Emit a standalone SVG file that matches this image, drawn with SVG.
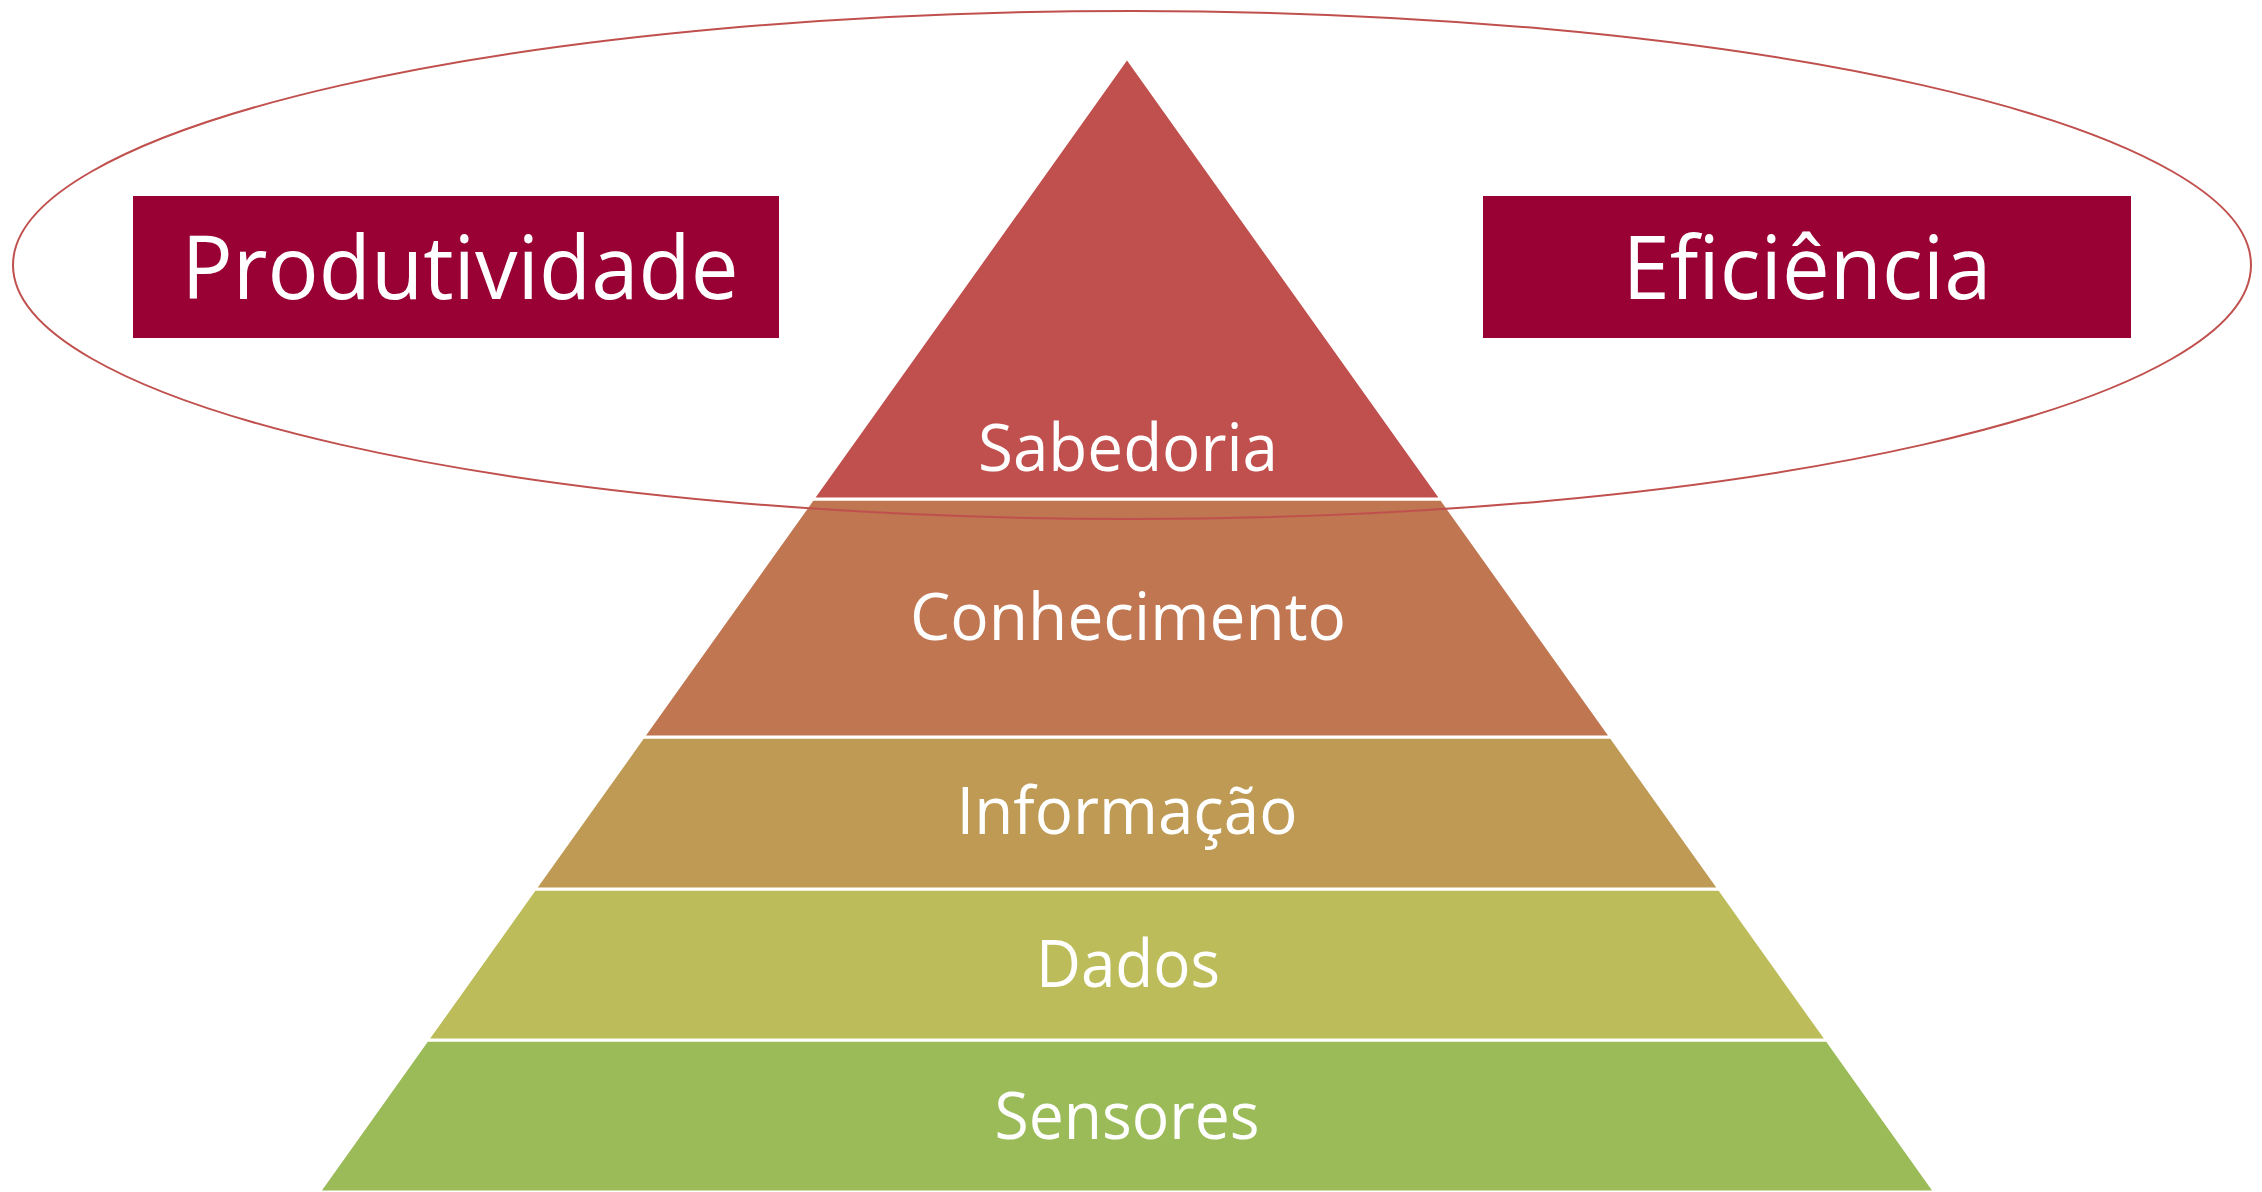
<svg xmlns="http://www.w3.org/2000/svg" width="2262" height="1192" viewBox="0 0 2262 1192">
  <style>
    .layer { stroke: #FFFFFF; stroke-width: 3; stroke-linejoin: miter; }
    .lbl { font-family: "Open Sans", "Noto Sans", "Liberation Sans", sans-serif; fill: #FFFFFF; text-anchor: middle; }
    .lt { font-size: 66px; }
    .bt { font-size: 87px; }
    .box { fill: #990033; }
  </style>
  <rect width="2262" height="1192" fill="#FFFFFF"/>
  <g id="pyramid">
    <g id="layer-sensores">
      <polygon class="layer" fill="#9BBB59" points="427.3,1040 1826.7,1040 1935,1192 319,1192"/>
      <text class="lbl lt" x="1127" y="1139" textLength="265" lengthAdjust="spacingAndGlyphs">Sensores</text>
    </g>
    <g id="layer-dados">
      <polygon class="layer" fill="#BCBC5A" points="534.9,889 1719.1,889 1826.7,1040 427.3,1040"/>
      <text class="lbl lt" x="1128" y="987" textLength="184" lengthAdjust="spacingAndGlyphs">Dados</text>
    </g>
    <g id="layer-informacao">
      <polygon class="layer" fill="#BE9A55" points="643.2,737 1610.8,737 1719.1,889 534.9,889"/>
      <text class="lbl lt" x="1127" y="834" textLength="341" lengthAdjust="spacingAndGlyphs">Informação</text>
    </g>
    <g id="layer-conhecimento">
      <polygon class="layer" fill="#BF7651" points="812.8,499 1441.2,499 1610.8,737 643.2,737"/>
      <text class="lbl lt" x="1128" y="640" textLength="436" lengthAdjust="spacingAndGlyphs">Conhecimento</text>
    </g>
    <g id="layer-sabedoria">
      <polygon class="layer" fill="#C0504D" points="1127,58 1441.2,499 812.8,499"/>
      <text class="lbl lt" x="1128" y="471" textLength="300" lengthAdjust="spacingAndGlyphs">Sabedoria</text>
    </g>
  </g>
  <g id="ellipse-outline">
    <ellipse cx="1132" cy="265" rx="1119" ry="254" fill="none" stroke="#C0504D" stroke-width="2"/>
  </g>
  <g id="box-produtividade">
    <rect class="box" x="133" y="196" width="646" height="142"/>
    <text class="lbl bt" x="460" y="299" textLength="557" lengthAdjust="spacingAndGlyphs">Produtividade</text>
  </g>
  <g id="box-eficiencia">
    <rect class="box" x="1483" y="196" width="648" height="142"/>
    <text class="lbl bt" x="1807" y="299" textLength="369" lengthAdjust="spacingAndGlyphs">Eficiência</text>
  </g>
  <g id="connectors"/>
</svg>
